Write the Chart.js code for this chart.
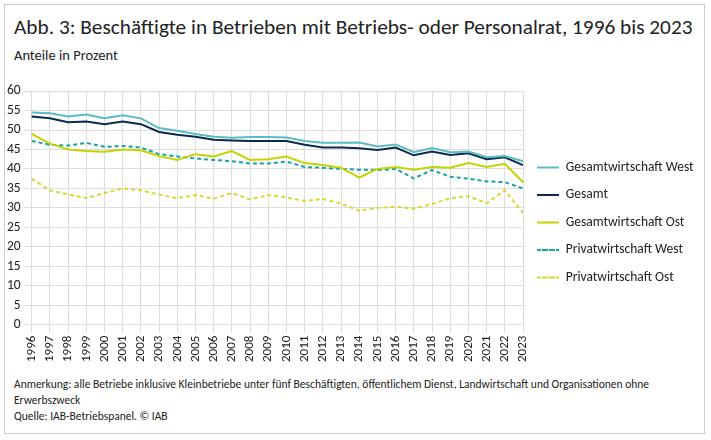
<!DOCTYPE html>
<html><head><meta charset="utf-8">
<script src="https://cdn.jsdelivr.net/npm/chart.js@4"></script>
<style>
body{margin:0;font-family:Calibri,Carlito,"Open Sans",sans-serif;background:#fff}
#card{position:absolute;left:4px;top:4px;width:701px;height:430px;border:1px solid #ccc;box-sizing:border-box}
#title{position:absolute;left:14px;top:14px;font-size:21.3px;color:#222}
#sub{position:absolute;left:14px;top:46px;font-size:14.5px;color:#222}
#wrap{position:absolute;left:4px;top:80px;width:692px;height:285px}
#foot{position:absolute;left:14px;top:376px;font-size:11.5px;color:#222;line-height:16px;width:670px}
</style></head><body>
<div id="card"></div>
<div id="title">Abb. 3: Beschäftigte in Betrieben mit Betriebs- oder Personalrat, 1996 bis 2023</div>
<div id="sub">Anteile in Prozent</div>
<div id="wrap"><canvas id="c"></canvas></div>
<div id="foot">Anmerkung: alle Betriebe inklusive Kleinbetriebe unter fünf Beschäftigten, öffentlichem Dienst, Landwirtschaft und Organisationen ohne Erwerbszweck<br>Quelle: IAB-Betriebspanel. © IAB</div>
<script>
const years = []
for (let y = 1996; y <= 2023; y++) years.push(String(y))
const gesamtWest = [54.5,54.3,53.5,54,53,53.8,53,50.5,49.8,49,48.3,48,48.2,48.2,48.1,47.2,46.7,46.7,46.8,45.8,46.3,44.3,45.4,44.3,44.5,43,43.3,42]
const gesamt = [53.5,53,52,52.2,51.5,52.2,51.5,49.5,48.8,48.3,47.5,47.3,47.2,47.2,47.2,46.2,45.5,45.5,45.3,44.9,45.5,43.5,44.5,43.6,44,42.5,43,41]
const gesamtOst = [49,46.5,45,44.6,44.4,45,44.8,43.3,42.3,43.8,43.2,44.6,42.3,42.5,43.2,41.5,41,40.3,37.8,40,40.5,39.8,40.5,40.3,41.5,40.5,41.3,36.6]
const privWest = [47.2,46.2,46,46.7,45.7,45.9,45.5,43.8,43.2,42.7,42.3,42,41.4,41.4,41.9,40.5,40.3,40,39.8,39.7,40,37.6,39.7,38,37.5,36.8,36.6,35]
const privOst = [37.5,34.5,33.5,32.5,33.8,35,34.5,33.4,32.5,33.3,32.4,33.8,32.2,33.3,32.7,31.8,32.3,31.1,29.3,30,30.3,29.8,31,32.5,33,31.2,34.5,28.7]

const font = 'Calibri, Carlito, "Open Sans", sans-serif'
const ds = (label, data, color, dash) => ({label, data, borderColor: color, backgroundColor: color,
  borderWidth: 2, borderDash: dash || [], pointRadius: 0, tension: 0})

new Chart(document.getElementById('c'), {
  type: 'line',
  data: {labels: years, datasets: [
    ds('Gesamtwirtschaft West', gesamtWest, '#5cbcc2'),
    ds('Gesamt', gesamt, '#0b2a4f'),
    ds('Gesamtwirtschaft Ost', gesamtOst, '#c3d400'),
    ds('Privatwirtschaft West', privWest, '#17a2a8', [4,3]),
    ds('Privatwirtschaft Ost', privOst, '#d3db30', [4,3])
  ]},
  options: {
    responsive: true, maintainAspectRatio: false, animation: false,
    plugins: {
      legend: {position: 'right', align: 'center',
        labels: {boxWidth: 22, boxHeight: 0, padding: 14, color: '#222', font: {family: font, size: 13.5},
          generateLabels: (chart) => Chart.defaults.plugins.legend.labels.generateLabels(chart)
            .map(l => Object.assign(l, {fillStyle: 'transparent', lineWidth: 2}))}},
      tooltip: {enabled: false}
    },
    scales: {
      x: {grid: {color: '#dcdcdc'}, border: {color: '#dcdcdc'},
        ticks: {color: '#222', maxRotation: 90, minRotation: 90, autoSkip: false, font: {family: font, size: 13}}},
      y: {min: 0, max: 60, grid: {color: '#dcdcdc'}, border: {display: false},
        ticks: {stepSize: 5, autoSkip: false, color: '#222', font: {family: font, size: 13.5}}}
    }
  }
})
</script>
</body></html>
